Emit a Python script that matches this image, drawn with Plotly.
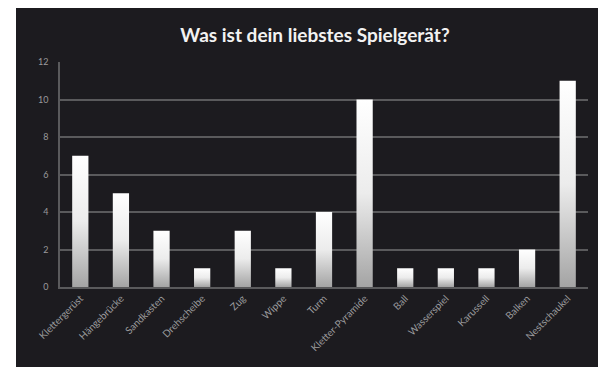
import plotly.graph_objects as go

# Survey data: favourite playground equipment (number of answers)
categories = [
    "Klettergerüst", "Hängebrücke", "Sandkasten", "Drehscheibe",
    "Zug", "Wippe", "Turm", "Kletter-Pyramide",
    "Ball", "Wasserspiel", "Karussell", "Balken", "Nestschaukel",
]
values = [7, 5, 3, 1, 3, 1, 4, 10, 1, 1, 1, 2, 11]
y_ticks = [0, 2, 4, 6, 8, 10, 12]
title_text = "Was ist dein liebstes Spielgerät?"

PANEL = "#1c1b1f"
GRID = "#5a5a5c"
LABEL = "#9a9a9c"
BAR_HALF = 0.2  # half bar width in category units

fig = go.Figure()

# Each bar is a filled rectangle so it can carry a vertical white gradient
for i, (cat, v) in enumerate(zip(categories, values)):
    fig.add_trace(go.Scatter(
        x=[i - BAR_HALF, i - BAR_HALF, i + BAR_HALF, i + BAR_HALF, i - BAR_HALF],
        y=[0, v, v, 0, 0],
        mode="lines",
        fill="toself",
        line=dict(width=0, color="#ffffff"),
        fillgradient=dict(
            type="vertical",
            colorscale=[[0, "#a4a4a4"], [0.5, "#ececec"], [1, "#ffffff"]],
        ),
        name=cat,
        text=f"{cat}: {v}",
        hoverinfo="text",
        showlegend=False,
    ))

W, H = 598, 367
ML, MR, MT, MB = 60, 10, 62, 80
pw, ph = W - ML - MR, H - MT - MB

def px_x(p):
    return (p - ML) / pw

def px_y(p):
    return (H - MB - p) / ph

fig.update_layout(
    width=W, height=H,
    margin=dict(l=ML, r=MR, t=MT, b=MB, autoexpand=False),
    paper_bgcolor="#ffffff",
    plot_bgcolor="rgba(0,0,0,0)",
    title=dict(
        text=f"<b>{title_text}</b>",
        x=px_x(315), xref="paper", xanchor="center",
        y=1 - 35 / H, yanchor="middle",
        font=dict(family="Lato", size=19, color="#f2f2f2"),
        automargin=False,
    ),
    shapes=[dict(
        type="rect", xref="paper", yref="paper", layer="below",
        x0=px_x(16), x1=px_x(W + 5), y0=px_y(H + 5), y1=px_y(8),
        fillcolor=PANEL, line=dict(width=0),
    )],
    xaxis=dict(
        range=[-0.5, len(categories) - 0.5],
        tickmode="array",
        tickvals=list(range(len(categories))),
        ticktext=categories,
        tickangle=-45,
        tickfont=dict(family="Lato", size=10, color=LABEL),
        showgrid=False, zeroline=False,
        showline=True, linecolor=GRID, linewidth=1.5,
        automargin=False,
        fixedrange=True,
    ),
    yaxis=dict(
        range=[0, 12],
        tickmode="array",
        tickvals=y_ticks,
        tickfont=dict(family="Lato", size=9, color=LABEL),
        ticklabelstandoff=8,
        showgrid=True, gridcolor=GRID, gridwidth=1.5,
        zeroline=False,
        showline=True, linecolor=GRID, linewidth=1.5,
        automargin=False,
        fixedrange=True,
    ),
)

fig.write_html("out.html")
